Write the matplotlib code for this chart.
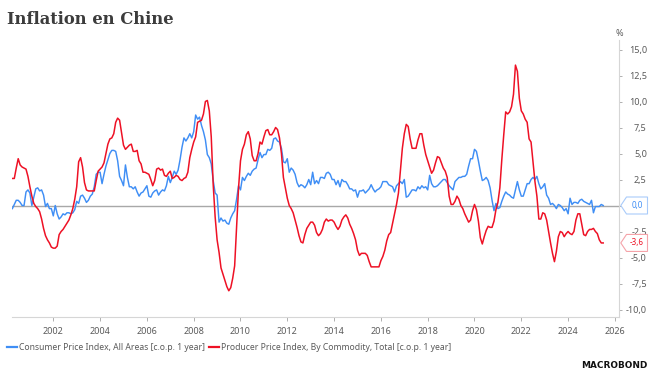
import numpy as np
import pandas as pd
import matplotlib
matplotlib.use("Agg")
import matplotlib.pyplot as plt
import matplotlib.transforms as mtransforms
from matplotlib.patches import Polygon

# monthly data, year-on-year %, first month April 2000
start = "2000-04"

cpi = [
    -0.3, 0.1, 0.5, 0.5, 0.3, 0.0, 0.0, 1.3, 1.5,                  # 2000
    1.2, 0.0, 0.8, 1.6, 1.7, 1.4, 1.5, 1.0, -0.1, 0.2, -0.3, -0.3,  # 2001
    -1.0, 0.0, -0.8, -1.3, -1.1, -0.8, -0.9, -0.7, -0.7, -0.8, -0.7, -0.4,
    0.4, 0.2, 0.9, 1.0, 0.7, 0.3, 0.5, 0.9, 1.1, 1.8, 3.0, 3.2,
    3.2, 2.1, 3.0, 3.8, 4.4, 5.0, 5.3, 5.3, 5.2, 4.3, 2.8, 2.4,
    1.9, 3.9, 2.7, 1.8, 1.8, 1.6, 1.8, 1.3, 0.9, 1.2, 1.3, 1.6,
    1.9, 0.9, 0.8, 1.2, 1.4, 1.5, 1.0, 1.3, 1.5, 1.4, 1.9, 2.8,
    2.2, 2.7, 3.3, 3.0, 3.4, 4.4, 5.6, 6.5, 6.2, 6.5, 6.9, 6.5,
    7.1, 8.7, 8.3, 8.5, 7.7, 7.1, 6.3, 4.9, 4.6, 4.0, 2.4, 1.2,
    1.0, -1.6, -1.2, -1.5, -1.4, -1.7, -1.8, -1.2, -0.8, -0.5, 0.6, 1.9,
    1.5, 2.7, 2.4, 2.8, 3.1, 2.9, 3.3, 3.5, 3.6, 4.4, 5.1, 4.6,
    4.9, 4.9, 5.4, 5.3, 5.5, 6.4, 6.5, 6.2, 6.1, 5.5, 4.2, 4.1,
    4.5, 3.2, 3.6, 3.4, 3.0, 2.2, 1.8, 2.0, 1.9, 1.7, 2.0, 2.5,
    2.0, 3.2, 2.1, 2.4, 2.1, 2.7, 2.7, 2.6, 3.1, 3.2, 3.0, 2.5,
    2.5, 2.0, 2.4, 1.8, 2.5, 2.3, 2.3, 2.0, 1.6, 1.6, 1.4, 1.5,
    0.8, 1.4, 1.4, 1.5, 1.2, 1.4, 1.6, 2.0, 1.6, 1.3, 1.5, 1.6,
    1.8, 2.3, 2.3, 2.3, 2.0, 1.9, 1.8, 1.3, 1.9, 2.1, 2.3, 2.1,
    2.5, 0.8, 0.9, 1.2, 1.5, 1.5, 1.4, 1.8, 1.6, 1.9, 1.7, 1.8,
    1.5, 2.9, 2.1, 1.8, 1.8, 1.9, 2.1, 2.3, 2.5, 2.5, 2.2, 1.9,
    1.7, 1.5, 2.3, 2.5, 2.7, 2.7, 2.8, 2.8, 3.0, 3.8, 4.5, 4.5,
    5.4, 5.2, 4.3, 3.3, 2.4, 2.5, 2.7, 2.4, 1.7, 0.5, -0.5, 0.2,
    -0.3, -0.2, 0.4, 0.9, 1.3, 1.1, 1.0, 0.8, 0.7, 1.5, 2.3, 1.5,
    0.9, 0.9, 1.5, 2.1, 2.1, 2.5, 2.7, 2.5, 2.8, 2.1, 1.6, 1.8,
    2.1, 1.0, 0.7, 0.1, 0.2, 0.0, -0.3, 0.1, 0.0, -0.2, -0.5, -0.3,
    -0.8, 0.7, 0.1, 0.3, 0.3, 0.2, 0.5, 0.6, 0.4, 0.3, 0.2, 0.1,
    0.5, -0.7, -0.1, -0.1, -0.1, 0.1, 0.0,                          # 2025
]

ppi = [
    2.6, 2.6, 3.6, 4.5, 3.9, 3.7, 3.6, 3.5, 2.8,                    # 2000
    1.8, 0.9, 0.2, -0.1, -0.3, -0.6, -1.3, -2.2, -2.9, -3.3, -3.6, -4.0,
    -4.1, -4.1, -3.9, -2.8, -2.5, -2.3, -2.0, -1.7, -1.4, -0.9, -0.3, 0.6,
    1.8, 4.2, 4.6, 3.7, 2.2, 1.5, 1.4, 1.4, 1.4, 1.4, 2.4, 3.3,
    3.5, 3.7, 4.1, 5.0, 5.9, 6.4, 6.5, 6.9, 8.0, 8.4, 8.2, 7.0,
    5.8, 5.4, 5.6, 5.8, 5.9, 5.2, 5.2, 5.3, 4.3, 4.0, 3.2, 3.2,
    3.1, 3.0, 2.5, 1.9, 2.4, 3.5, 3.6, 3.4, 3.5, 2.9, 2.8, 3.1,
    3.3, 2.6, 2.7, 2.9, 2.8, 2.5, 2.4, 2.6, 2.7, 3.2, 4.6, 5.4,
    6.1, 6.6, 8.0, 8.1, 8.2, 8.8, 10.0, 10.1, 9.1, 6.6, 2.0, -1.1,
    -3.3, -4.5, -6.0, -6.6, -7.2, -7.8, -8.2, -7.9, -7.0, -5.8, -2.1, 1.7,
    4.3, 5.4, 5.9, 6.8, 7.1, 6.4, 4.8, 4.3, 4.3, 5.0, 6.1, 5.9,
    6.6, 7.2, 7.3, 6.8, 6.8, 7.1, 7.5, 7.3, 6.5, 5.0, 2.7, 1.7,
    0.7, 0.0, -0.3, -0.7, -1.4, -2.1, -2.9, -3.5, -3.6, -2.8, -2.2, -1.9,
    -1.6, -1.6, -1.9, -2.6, -2.9, -2.7, -2.3, -1.6, -1.3, -1.5, -1.4, -1.4,
    -1.6, -2.0, -2.3, -2.0, -1.4, -1.1, -0.9, -1.2, -1.8, -2.2, -2.7, -3.3,
    -4.3, -4.8, -4.6, -4.6, -4.6, -4.8, -5.4, -5.9, -5.9, -5.9, -5.9, -5.9,
    -5.3, -4.9, -4.3, -3.4, -2.8, -2.6, -1.7, -0.8, 0.1, 1.2, 3.3, 5.5,
    6.9, 7.8, 7.6, 6.4, 5.5, 5.5, 5.5, 6.3, 6.9, 6.9, 5.8, 4.9,
    4.3, 3.7, 3.1, 3.4, 4.1, 4.7, 4.6, 4.1, 3.6, 3.3, 2.7, 0.9,
    0.1, 0.1, 0.4, 0.9, 0.6, 0.0, -0.3, -0.8, -1.2, -1.6, -1.4, -0.5,
    0.1, -0.4, -1.5, -3.1, -3.7, -3.0, -2.4, -2.0, -2.1, -2.1, -1.5, -0.4,
    0.3, 1.7, 4.4, 6.8, 9.0, 8.8, 9.0, 9.5, 10.7, 13.5, 12.9, 10.3,
    9.1, 8.8, 8.3, 8.0, 6.4, 6.1, 4.2, 2.3, 0.9, -1.3, -1.3, -0.7,
    -0.8, -1.4, -2.5, -3.6, -4.6, -5.4, -4.4, -3.0, -2.5, -2.6, -3.0, -2.7,
    -2.5, -2.7, -2.8, -2.5, -1.4, -0.8, -0.8, -1.8, -2.8, -2.9, -2.5, -2.3,
    -2.3, -2.2, -2.5, -2.7, -3.3, -3.6, -3.6,                       # 2025
]

cpi_label = "Consumer Price Index, All Areas [c.o.p. 1 year]"
ppi_label = "Producer Price Index, By Commodity, Total [c.o.p. 1 year]"
year_ticks = list(range(2002, 2027, 2))
value_ticks = [-10, -7.5, -5, -2.5, 0, 2.5, 5, 7.5, 10, 12.5, 15]

BLUE = "#3f8ef5"
RED = "#ee1125"
GREY = "#5a5a5a"
LIGHT = "#d6d6d6"

assert len(cpi) == len(ppi)
months = pd.period_range(start, periods=len(cpi), freq="M")
t = np.asarray(months.year + (months.month - 1) / 12.0)

plt.rcParams["font.family"] = ["Noto Sans", "DejaVu Sans"]

W, H = 651, 371
fig = plt.figure(figsize=(W / 100, H / 100), dpi=100)
left, right, top, bottom = 12, 619, 40, 317
ax = fig.add_axes([left / W, 1 - bottom / H, (right - left) / W, (bottom - top) / H])

ax.axhline(0, color="#a8a8a8", lw=1.0, zorder=2)
ax.plot(t, cpi, color=BLUE, lw=1.05, label=cpi_label, zorder=3)
ax.plot(t, ppi, color=RED, lw=1.1, label=ppi_label, zorder=4)

px_per_unit = 10.4
ax.set_ylim(-(bottom - 205.5) / px_per_unit, (205.5 - top) / px_per_unit)
x0 = 2000 + (left - 6.5) / 23.4
x1 = 2000 + (right - 6.5) / 23.4
ax.set_xlim(x0, x1)

for s in ["left", "top"]:
    ax.spines[s].set_visible(False)
ax.spines["bottom"].set_color(LIGHT)
ax.spines["right"].set_color(LIGHT)
ax.spines["bottom"].set_linewidth(0.8)
ax.spines["right"].set_linewidth(0.8)

ax.set_xticks(year_ticks)
ax.set_xticklabels([str(y) for y in year_ticks])
ax.tick_params(axis="x", length=3, width=0.7, color="#b0b0b0",
               labelsize=6.5, labelcolor=GREY, pad=4)

ax.yaxis.tick_right()
ax.set_yticks(value_ticks)
ax.set_yticklabels(["" if v == 0 else f"{v:.1f}".replace(".", ",")
                    for v in value_ticks])
ax.tick_params(axis="y", length=2.5, width=0.7, color="#b0b0b0",
               labelsize=6.5, labelcolor=GREY, pad=17.5)
for lab in ax.get_yticklabels():
    lab.set_horizontalalignment("right")

fig.text(619 / W, 1 - 33 / H, "%", ha="center", va="center",
         fontsize=6.5, color=GREY)

fig.text(7 / W, 1 - 23.5 / H, "Inflation en Chine", ha="left", va="baseline",
         fontsize=11.8, fontweight="bold", family="DejaVu Serif", color="#3c3c3c")


def tag(value, text, edge, color):
    trans = fig.dpi_scale_trans + mtransforms.ScaledTranslation(
        1.0, value, ax.get_yaxis_transform())
    verts = [(0.018, 0), (0.075, 0.085), (0.285, 0.085),
             (0.285, -0.085), (0.075, -0.085)]
    fig.add_artist(Polygon(verts, closed=True, transform=trans,
                           facecolor="white", edgecolor=edge, lw=0.8, zorder=10))
    fig.text(0.18, 0, text, transform=trans, ha="center", va="center",
             fontsize=5.8, color=color, zorder=11)


tag(cpi[-1], f"{cpi[-1]:.1f}".replace(".", ","), "#a9cbfa", BLUE)
tag(ppi[-1], f"{ppi[-1]:.1f}".replace(".", ","), "#f5a3a9", RED)

leg = ax.legend(loc="center left", bbox_to_anchor=(7 / W, 1 - 348 / H),
                bbox_transform=fig.transFigure, ncol=2, frameon=False,
                fontsize=6.2, handlelength=1.15, handletextpad=0.25,
                columnspacing=0.5, borderpad=0, borderaxespad=0)
for txt in leg.get_texts():
    txt.set_color(GREY)
for line in leg.get_lines():
    line.set_linewidth(1.6)

fig.text(647 / W, 1 - 365 / H, "MACROBOND", ha="right", va="center",
         fontsize=6.4, fontweight="bold", family="DejaVu Sans", color="#111111")

fig.savefig("out.png", dpi=100)
